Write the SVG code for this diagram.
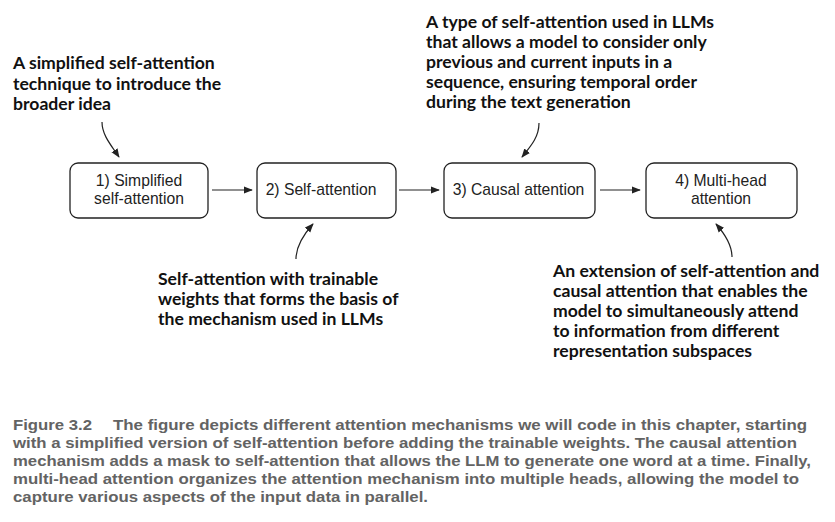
<svg xmlns="http://www.w3.org/2000/svg" width="835" height="522" viewBox="0 0 835 522">
<style>
.box{fill:#fff;stroke:#222;stroke-width:1.3}
.bt{font-family:"Liberation Sans",Arial,sans-serif;font-size:15.7px;fill:#222}
.ann{font-family:Lato,"Open Sans",sans-serif;font-weight:bold;font-size:17.6px;fill:#111}
.cap{font-family:"Liberation Sans",Arial,sans-serif;font-weight:bold;font-size:15.5px;fill:#636363}
.conn{fill:none;stroke:#222;stroke-width:1.2}
</style>
<defs>
<marker id="ah" viewBox="0 0 10 10" refX="9" refY="5" markerWidth="9" markerHeight="9" markerUnits="userSpaceOnUse" orient="auto">
<path d="M0,1 L10,5 L0,9 z" fill="#222"/>
</marker>
</defs>
<rect width="835" height="522" fill="#fff"/>
<g id="node1">
<rect class="box" x="70" y="163" width="138" height="55" rx="8"/>
<text class="bt" x="139" y="186" text-anchor="middle">1) Simplified</text>
<text class="bt" x="139" y="204" text-anchor="middle">self-attention</text>
</g>
<g id="node2">
<rect class="box" x="257" y="163" width="139" height="55" rx="8"/>
<text class="bt" x="321" y="195" text-anchor="middle">2) Self-attention</text>
</g>
<g id="node3">
<rect class="box" x="444" y="163" width="151" height="55" rx="8"/>
<text class="bt" x="518.5" y="195" text-anchor="middle">3) Causal attention</text>
</g>
<g id="node4">
<rect class="box" x="646" y="163" width="151" height="55" rx="8"/>
<text class="bt" x="721" y="186" text-anchor="middle">4) Multi-head</text>
<text class="bt" x="721" y="204" text-anchor="middle">attention</text>
</g>
<g id="connectors">
<line class="conn" x1="212" y1="190" x2="252" y2="190" marker-end="url(#ah)"/>
<line class="conn" x1="399" y1="190" x2="439" y2="190" marker-end="url(#ah)"/>
<line class="conn" x1="600" y1="190" x2="640" y2="190" marker-end="url(#ah)"/>
<path class="conn" d="M102,122 C102,135 111,145 119,157" marker-end="url(#ah)"/>
<path class="conn" d="M296,259 C296,246 304,234 313,224" marker-end="url(#ah)"/>
<path class="conn" d="M539,123 C539,137 531,146 522,157" marker-end="url(#ah)"/>
<path class="conn" d="M732,257 C732,244 724,233 716,224" marker-end="url(#ah)"/>
</g>
<g id="annotation1">
<text class="ann" x="13" y="69">A simplified self-attention</text>
<text class="ann" x="13" y="90">technique to introduce the</text>
<text class="ann" x="13" y="110">broader idea</text>
</g>
<g id="annotation2">
<text class="ann" x="158" y="285">Self-attention with trainable</text>
<text class="ann" x="158" y="305">weights that forms the basis of</text>
<text class="ann" x="158" y="325">the mechanism used in LLMs</text>
</g>
<g id="annotation3">
<text class="ann" x="426" y="28">A type of self-attention used in LLMs</text>
<text class="ann" x="426" y="48">that allows a model to consider only</text>
<text class="ann" x="426" y="68">previous and current inputs in a</text>
<text class="ann" x="426" y="88">sequence, ensuring temporal order</text>
<text class="ann" x="426" y="108">during the text generation</text>
</g>
<g id="annotation4">
<text class="ann" x="553" y="277">An extension of self-attention and</text>
<text class="ann" x="553" y="297">causal attention that enables the</text>
<text class="ann" x="553" y="317">model to simultaneously attend</text>
<text class="ann" x="553" y="337">to information from different</text>
<text class="ann" x="553" y="357">representation subspaces</text>
</g>
<g id="caption">
<text class="cap" x="13" y="430" textLength="79" lengthAdjust="spacingAndGlyphs">Figure 3.2</text>
<text class="cap" x="113" y="430" textLength="694" lengthAdjust="spacingAndGlyphs">The figure depicts different attention mechanisms we will code in this chapter, starting</text>
<text class="cap" x="13" y="448" textLength="784" lengthAdjust="spacingAndGlyphs">with a simplified version of self-attention before adding the trainable weights. The causal attention</text>
<text class="cap" x="13" y="466" textLength="798" lengthAdjust="spacingAndGlyphs">mechanism adds a mask to self-attention that allows the LLM to generate one word at a time. Finally,</text>
<text class="cap" x="13" y="484" textLength="786" lengthAdjust="spacingAndGlyphs">multi-head attention organizes the attention mechanism into multiple heads, allowing the model to</text>
<text class="cap" x="13" y="502" textLength="415" lengthAdjust="spacingAndGlyphs">capture various aspects of the input data in parallel.</text>
</g>
</svg>
